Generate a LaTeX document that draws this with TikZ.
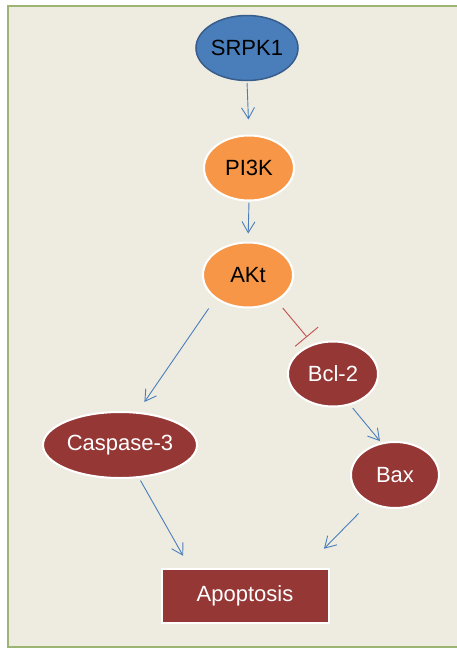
\documentclass[tikz,border=0pt]{standalone}
\usepackage{fontspec}
\setmainfont{Liberation Sans}
\usetikzlibrary{arrows.meta,shapes.geometric}
\definecolor{panel}{HTML}{EEECE1}
\definecolor{frame}{HTML}{9DB572}
\definecolor{kinase}{HTML}{4A7EBB}
\definecolor{kinaseline}{HTML}{385D8A}
\definecolor{upstream}{HTML}{F79646}
\definecolor{death}{HTML}{953735}
\definecolor{link}{HTML}{4A7EBB}
\definecolor{block}{HTML}{C0504D}

\begin{document}
\begin{tikzpicture}[x=1pt, y=-1pt,
  every node/.style={font=\fontsize{22}{26}\selectfont, inner sep=0pt},
  blob/.style={ellipse, minimum width=90, minimum height=65, draw=white, line width=2pt},
  arr/.style={link, line width=0.9pt, -{Straight Barb[length=11pt, width=13pt]}},
  inh/.style={block, line width=0.9pt, -{Bar[width=30pt]}}]
  \useasboundingbox (0,0) rectangle (457,648);
  % Panel
  \fill[panel] (8,6) rectangle (470,647);
  \draw[frame, line width=2.5pt] (8,6) rectangle (470,647);

  % Pathway nodes
  \node[blob, fill=kinase, draw=kinaseline, line width=1.5pt, minimum width=96] (srpk) at (247,48) {SRPK1};
  \node[blob, fill=upstream] (pi3k) at (249,168) {PI3K};
  \node[blob, fill=upstream] (akt) at (248,275) {AKt};
  \node[blob, fill=death, text=white] (bcl) at (333,374) {Bcl-2};
  \node[blob, fill=death, text=white, minimum width=154, minimum height=66] (casp) at (120,445) {Caspase-3};
  \node[blob, fill=death, text=white, minimum width=88, minimum height=66] (bax) at (395,475) {Bax};
  \node[rectangle, fill=death, text=white, draw=white, line width=2pt,
        minimum width=167, minimum height=54] (apop) at (245,596) {Apoptosis};

  % Links
  \draw[arr, shorten <=2, shorten >=15] (srpk.south) -- (pi3k.north);
  \draw[arr, shorten <=1, shorten >=8] (pi3k.south) -- (akt.north);
  \draw[arr, shorten <=12, shorten >=12] (akt.216) -- (casp.62);
  \draw[inh, shorten <=9, shorten >=9] (akt.318) -- (bcl.124);
  \draw[arr, shorten <=4, shorten >=2] (bcl.299) -- (bax.113);
  \draw[arr, shorten <=3, shorten >=14] (casp.300) -- (apop.153);
  \draw[arr, shorten <=15, shorten >=27] (bax.227) -- (apop.25);
\end{tikzpicture}
\end{document}
